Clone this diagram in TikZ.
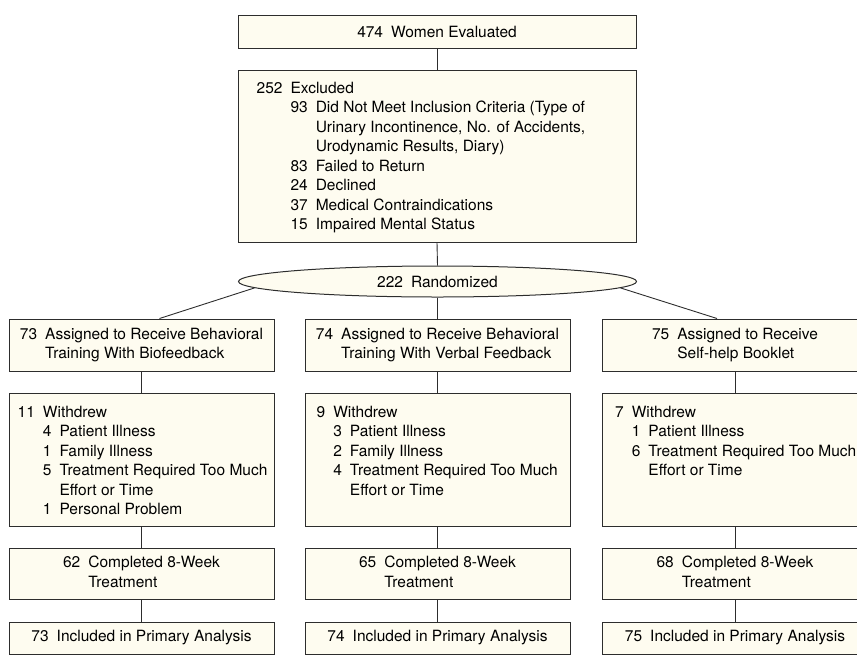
\documentclass[tikz,border=0pt]{standalone}
\usepackage{fontspec}
\setmainfont{TeX Gyre Heros}
\usetikzlibrary{shapes.geometric}
\definecolor{boxfill}{RGB}{254,252,240}
\definecolor{edge}{RGB}{45,45,45}
\newcommand{\gap}{\hspace{8pt}}
\newcommand{\pairlines}[3]{\begin{tabular}{@{}l@{\gap}l@{}}#1 & #2\\ & #3\end{tabular}}

\begin{document}
\begin{tikzpicture}[x=1pt,y=-1pt]
\tikzstyle{every node}=[inner sep=0pt, font=\fontsize{15.5}{19.5}\selectfont]
\tikzstyle{box}=[draw=edge, fill=boxfill, line width=1pt, minimum width=265pt]
\tikzstyle{wide}=[box, minimum width=398pt]
\tikzstyle{conn}=[draw=edge, line width=0.9pt]
\clip (0,0) rectangle (857,665);
\node (top) [wide, minimum height=33pt] at (437,31.5) {474\gap Women Evaluated};
\node (excl) [wide, minimum height=172pt] at (437,156) {};
\node (exclt) [anchor=north west] at ([shift={(19,10)}]excl.north west) {\begin{tabular}{@{}l@{\gap}l@{\gap}l@{}}
252 & \rlap{Excluded} & \\
 & 93 & Did Not Meet Inclusion Criteria (Type of\\
 & & Urinary Incontinence, No. of Accidents,\\
 & & Urodynamic Results, Diary)\\
 & 83 & Failed to Return\\
 & 24 & Declined\\
 & 37 & Medical Contraindications\\
 & 15 & Impaired Mental Status
\end{tabular}};
\node (rand) [ellipse, draw=edge, fill=boxfill, line width=1pt, minimum width=398pt, minimum height=31pt] at (437.5,281.5) {222\gap Randomized};
\node (a1) [box, minimum height=52pt] at (141.5,345) {\pairlines{73}{Assigned to Receive Behavioral}{Training With Biofeedback}};
\node (a2) [box, minimum height=52pt] at (437.5,345) {\pairlines{74}{Assigned to Receive Behavioral}{Training With Verbal Feedback}};
\node (a3) [box, minimum height=52pt] at (735,345) {\pairlines{75}{Assigned to Receive}{Self-help Booklet}};
\node (w1) [box, minimum height=133pt] at (141.5,459.5) {};
\node (w2) [box, minimum height=133pt] at (437.5,459.5) {};
\node (w3) [box, minimum height=133pt] at (735,459.5) {};
\node (w1t) [anchor=north west] at ([shift={(9,11)}]w1.north west) {\begin{tabular}{@{}l@{\gap}l@{\gap}l@{}}
11 & \rlap{Withdrew} & \\
 & 4 & Patient Illness\\
 & 1 & Family Illness\\
 & 5 & Treatment Required Too Much\\
 & & Effort or Time\\
 & 1 & Personal Problem
\end{tabular}};
\node (w2t) [anchor=north west] at ([shift={(12,11)}]w2.north west) {\begin{tabular}{@{}l@{\gap}l@{\gap}l@{}}
9 & \rlap{Withdrew} & \\
 & 3 & Patient Illness\\
 & 2 & Family Illness\\
 & 4 & Treatment Required Too Much\\
 & & Effort or Time
\end{tabular}};
\node (w3t) [anchor=north west] at ([shift={(13,11)}]w3.north west) {\begin{tabular}{@{}l@{\gap}l@{\gap}l@{}}
7 & \rlap{Withdrew} & \\
 & 1 & Patient Illness\\
 & 6 & Treatment Required Too Much\\
 & & Effort or Time
\end{tabular}};
\node (c1) [box, minimum height=51pt] at (141.5,573.5) {\pairlines{62}{Completed 8-Week}{Treatment}};
\node (c2) [box, minimum height=51pt] at (437.5,573.5) {\pairlines{65}{Completed 8-Week}{Treatment}};
\node (c3) [box, minimum height=51pt] at (735,573.5) {\pairlines{68}{Completed 8-Week}{Treatment}};
\node (p1) [box, minimum height=32pt] at (141.5,638) {73\gap Included in Primary Analysis};
\node (p2) [box, minimum height=32pt] at (437.5,638) {74\gap Included in Primary Analysis};
\node (p3) [box, minimum height=32pt] at (735,638) {75\gap Included in Primary Analysis};
\draw[conn] (top.south) -- (excl.north);
\draw[conn] (excl.south) -- (rand.north);
\draw[conn] (rand.182) -- ([xshift=18]a1.north);
\draw[conn] (rand.south) -- (a2.north);
\draw[conn] (rand.-2) -- ([xshift=-18]a3.north);
\draw[conn] (a1.south) -- (w1.north);
\draw[conn] (a2.south) -- (w2.north);
\draw[conn] (a3.south) -- (w3.north);
\draw[conn] (w1.south) -- (c1.north);
\draw[conn] (w2.south) -- (c2.north);
\draw[conn] (w3.south) -- (c3.north);
\draw[conn] (c1.south) -- (p1.north);
\draw[conn] (c2.south) -- (p2.north);
\draw[conn] (c3.south) -- (p3.north);
\end{tikzpicture}
\end{document}
